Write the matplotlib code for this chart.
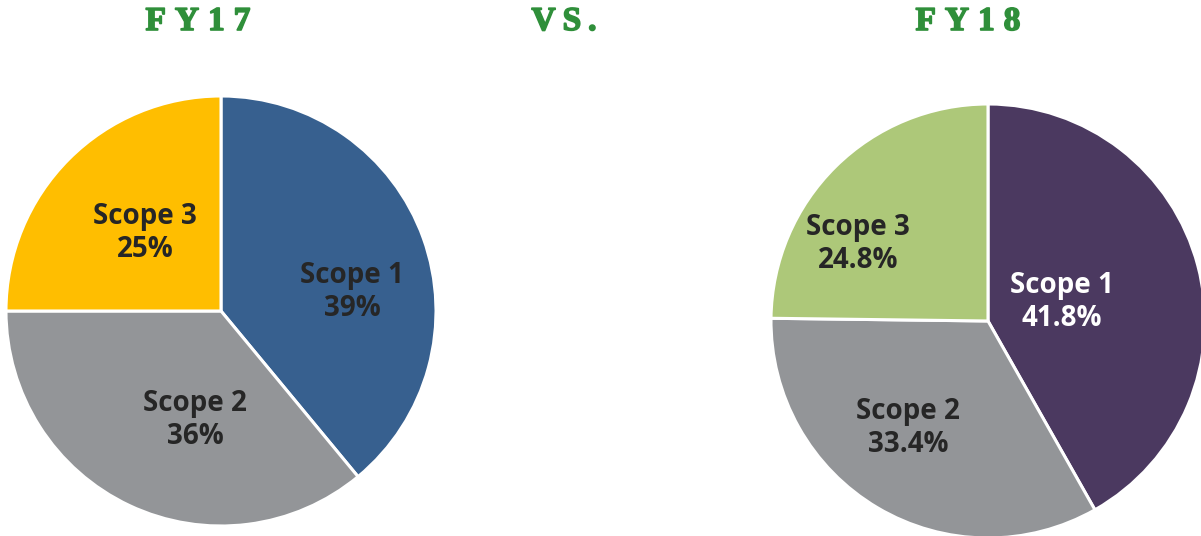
import matplotlib
matplotlib.use("Agg")
import matplotlib.pyplot as plt
import matplotlib.patheffects as pe

labels = ["Scope 1", "Scope 2", "Scope 3"]
fy17_values = [39, 36, 25]
fy18_values = [41.8, 33.4, 24.8]
fy17_text = ["39%", "36%", "25%"]
fy18_text = ["41.8%", "33.4%", "24.8%"]
titles = ["FY17", "VS.", "FY18"]

fy17_colors = ["#37608f", "#939598", "#ffbe00"]
fy18_colors = ["#4b3960", "#939598", "#adc879"]

W, H = 1201, 536
fig = plt.figure(figsize=(W / 100, H / 100), dpi=100)
ax = fig.add_axes([0, 0, 1, 1])

def draw_pie(values, colors, texts, center, radius, offsets, txt_colors):
    ax.pie(values, colors=colors, startangle=90, counterclock=False,
           center=center, radius=radius, explode=[0, 0, 0.014],
           wedgeprops=dict(edgecolor="white", linewidth=2.2),
           frame=True)
    for lab, t, off, c in zip(labels, texts, offsets, txt_colors):
        ax.text(center[0] + off[0] * radius, center[1] + off[1] * radius,
                f"{lab}\n{t}", ha="center", va="center", color=c,
                fontsize=20, fontweight="bold", family="Open Sans",
                linespacing=1.2)

draw_pie(fy17_values, fy17_colors, fy17_text, (221, H - 311), 215,
         [(0.61, 0.088), (-0.121, -0.507), (-0.353, 0.363)],
         ["#262626", "#262626", "#262626"])
draw_pie(fy18_values, fy18_colors, fy18_text, (988, H - 321), 217,
         [(0.341, 0.088), (-0.369, -0.493), (-0.599, 0.355)],
         ["white", "#262626", "#262626"])
ax.set_xlim(0, W)
ax.set_ylim(0, H)
ax.set_aspect("equal")
ax.axis("off")

# titles with letter spacing
fig.canvas.draw()
renderer = fig.canvas.get_renderer()
green = "#2f8f3a"
def spaced_title(s, xc, y, track):
    widths = []
    tmp = []
    for ch in s:
        t = ax.text(0, y, ch, fontsize=24, fontweight="bold",
                    family="Liberation Serif", color=green, va="baseline",
                    path_effects=[pe.withStroke(linewidth=1.2, foreground=green)])
        bb = t.get_window_extent(renderer)
        widths.append(bb.width)
        tmp.append(t)
    total = sum(widths) + track * (len(s) - 1)
    x = xc - total / 2
    for t, w in zip(tmp, widths):
        t.set_x(x)
        x += w + track

spaced_title(titles[0], 198, H - 30, 9)
spaced_title(titles[1], 564, H - 30, 7)
spaced_title(titles[2], 968, H - 30, 9)

fig.savefig("out.png", dpi=100)
